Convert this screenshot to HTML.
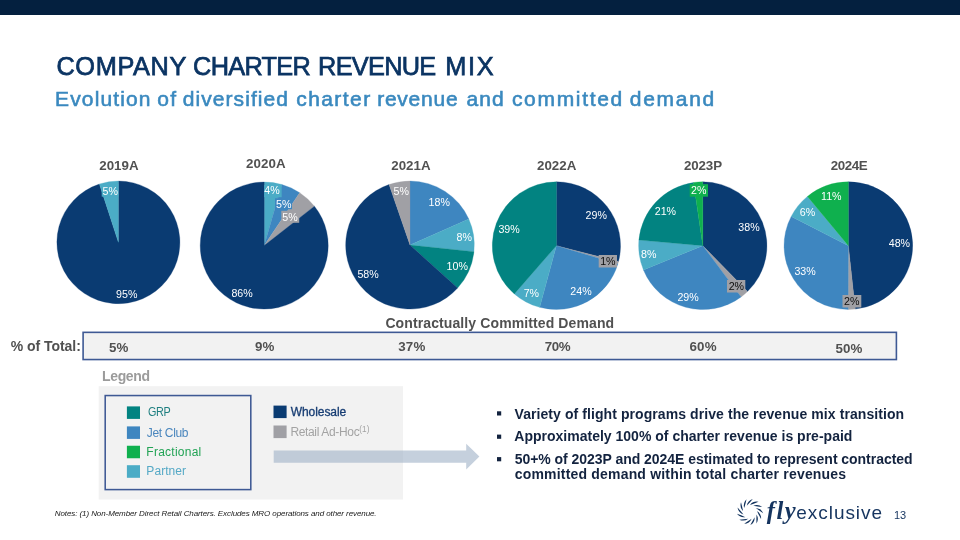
<!DOCTYPE html>
<html lang="en"><head><meta charset="utf-8"><title>Company Charter Revenue Mix</title>
<style>
html,body{margin:0;padding:0;background:#fff;}
body{width:960px;height:540px;position:relative;overflow:hidden;font-family:"Liberation Sans",sans-serif;}
.t{position:absolute;white-space:nowrap;line-height:1;}
svg text{font-family:"Liberation Sans",sans-serif;font-size:10.67px;text-anchor:middle;}
.bar{position:absolute;left:0;top:0;width:960px;height:14px;background:#04203f;border-bottom:1px solid rgba(4,32,63,0.4);}
</style></head><body>
<div class="bar"></div>

<svg width="960" height="540" viewBox="0 0 960 540" style="position:absolute;left:0;top:0">
<rect x="98.7" y="386.2" width="304.3" height="113.3" fill="#f2f2f2"/>
<rect x="83.1" y="332.35" width="813.3" height="27.2" fill="#f2f2f2" stroke="#3e5994" stroke-width="1.6"/>
<rect x="105.2" y="395.55" width="145.6" height="94.05" fill="none" stroke="#3e5994" stroke-width="1.55"/>
<rect x="126.9" y="406.4" width="13.1" height="12.5" fill="#028381"/>
<rect x="126.9" y="426.4" width="13.1" height="12.5" fill="#3e86c0"/>
<rect x="126.9" y="445.75" width="13.1" height="12.5" fill="#0fb04e"/>
<rect x="126.9" y="465.2" width="13.1" height="12.6" fill="#4bacc6"/>
<rect x="273.5" y="405.6" width="13.1" height="12.5" fill="#0a3b72"/>
<rect x="273.5" y="425.5" width="13.1" height="12.6" fill="#a0a0a5"/>
<rect x="497" y="411.3" width="4.2" height="4.2" fill="#13233f"/>
<rect x="497" y="434.6" width="4.2" height="4.2" fill="#13233f"/>
<rect x="497" y="457.1" width="4.2" height="4.2" fill="#13233f"/>
<path d="M118.40,242.35 L118.40,181.05 A61.50,61.30 0 1 1 99.40,184.05 Z" fill="#0a3b72" stroke="#0a3b72" stroke-width="0.3"/>
<path d="M118.40,242.35 L99.40,184.05 A61.50,61.30 0 0 1 118.40,181.05 Z" fill="#4bacc6" stroke="#4bacc6" stroke-width="0.3"/>
<path d="M264.20,245.55 L264.20,182.05 A64.00,63.50 0 0 1 281.84,184.51 Z" fill="#4bacc6" stroke="#4bacc6" stroke-width="0.3"/>
<path d="M264.20,245.55 L281.84,184.51 A64.00,63.50 0 0 1 299.71,192.72 Z" fill="#3e86c0" stroke="#3e86c0" stroke-width="0.3"/>
<path d="M264.20,245.55 L299.71,192.72 A64.00,63.50 0 0 1 314.43,206.19 Z" fill="#a0a0a5" stroke="#a0a0a5" stroke-width="0.3"/>
<path d="M264.20,245.55 L314.43,206.19 A64.00,63.50 0 1 1 264.20,182.05 Z" fill="#0a3b72" stroke="#0a3b72" stroke-width="0.3"/>
<path d="M410.00,245.05 L410.00,181.05 A64.30,64.00 0 0 1 468.79,219.12 Z" fill="#3e86c0" stroke="#3e86c0" stroke-width="0.3"/>
<path d="M410.00,245.05 L468.79,219.12 A64.30,64.00 0 0 1 473.95,251.74 Z" fill="#4bacc6" stroke="#4bacc6" stroke-width="0.3"/>
<path d="M410.00,245.05 L473.95,251.74 A64.30,64.00 0 0 1 457.63,288.04 Z" fill="#028381" stroke="#028381" stroke-width="0.3"/>
<path d="M410.00,245.05 L457.63,288.04 A64.30,64.00 0 1 1 389.07,184.54 Z" fill="#0a3b72" stroke="#0a3b72" stroke-width="0.3"/>
<path d="M410.00,245.05 L389.07,184.54 A64.30,64.00 0 0 1 410.00,181.05 Z" fill="#a0a0a5" stroke="#a0a0a5" stroke-width="0.3"/>
<path d="M556.40,245.70 L556.40,181.85 A64.10,63.85 0 0 1 618.49,261.58 Z" fill="#0a3b72" stroke="#0a3b72" stroke-width="0.3"/>
<path d="M556.40,245.70 L618.49,261.58 A64.10,63.85 0 0 1 617.83,263.94 Z" fill="#a0a0a5" stroke="#a0a0a5" stroke-width="0.3"/>
<path d="M556.40,245.70 L617.83,263.94 A64.10,63.85 0 0 1 539.70,307.35 Z" fill="#3e86c0" stroke="#3e86c0" stroke-width="0.3"/>
<path d="M556.40,245.70 L539.70,307.35 A64.10,63.85 0 0 1 514.35,293.89 Z" fill="#4bacc6" stroke="#4bacc6" stroke-width="0.3"/>
<path d="M556.40,245.70 L514.35,293.89 A64.10,63.85 0 0 1 556.40,181.85 Z" fill="#028381" stroke="#028381" stroke-width="0.3"/>
<path d="M702.80,245.70 L702.80,181.85 A64.15,63.85 0 0 1 747.52,291.47 Z" fill="#0a3b72" stroke="#0a3b72" stroke-width="0.3"/>
<path d="M702.80,245.70 L747.52,291.47 A64.15,63.85 0 0 1 741.14,296.89 Z" fill="#a0a0a5" stroke="#a0a0a5" stroke-width="0.3"/>
<path d="M702.80,245.70 L741.14,296.89 A64.15,63.85 0 0 1 643.45,269.93 Z" fill="#3e86c0" stroke="#3e86c0" stroke-width="0.3"/>
<path d="M702.80,245.70 L643.45,269.93 A64.15,63.85 0 0 1 638.90,240.02 Z" fill="#4bacc6" stroke="#4bacc6" stroke-width="0.3"/>
<path d="M702.80,245.70 L638.90,240.02 A64.15,63.85 0 0 1 693.54,182.52 Z" fill="#028381" stroke="#028381" stroke-width="0.3"/>
<path d="M702.80,245.70 L693.54,182.52 A64.15,63.85 0 0 1 702.80,181.85 Z" fill="#0fb04e" stroke="#0fb04e" stroke-width="0.3"/>
<path d="M848.35,245.65 L848.35,181.85 A64.30,63.80 0 0 1 855.29,309.08 Z" fill="#0a3b72" stroke="#0a3b72" stroke-width="0.3"/>
<path d="M848.35,245.65 L855.29,309.08 A64.30,63.80 0 0 1 848.13,309.45 Z" fill="#a0a0a5" stroke="#a0a0a5" stroke-width="0.3"/>
<path d="M848.35,245.65 L848.13,309.45 A64.30,63.80 0 0 1 791.21,216.39 Z" fill="#3e86c0" stroke="#3e86c0" stroke-width="0.3"/>
<path d="M848.35,245.65 L791.21,216.39 A64.30,63.80 0 0 1 807.45,196.42 Z" fill="#4bacc6" stroke="#4bacc6" stroke-width="0.3"/>
<path d="M848.35,245.65 L807.45,196.42 A64.30,63.80 0 0 1 848.35,181.85 Z" fill="#0fb04e" stroke="#0fb04e" stroke-width="0.3"/>
<rect x="101.7" y="184" width="16.6" height="12.7" fill="#4bacc6"/>
<rect x="264.2" y="185" width="17.5" height="12.2" fill="#4bacc6"/>
<rect x="275" y="198.3" width="17.0" height="10.9" fill="#3e86c0"/>
<rect x="281.3" y="210.8" width="17.9" height="12.0" fill="#a0a0a5"/>
<rect x="598.7" y="255" width="18.3" height="12.5" fill="#a0a0a5"/>
<rect x="689.7" y="184.2" width="18.3" height="12.5" fill="#0fb04e"/>
<rect x="727" y="280" width="18.3" height="12.5" fill="#a0a0a5"/>
<rect x="842.5" y="295" width="18.8" height="12.5" fill="#a0a0a5"/>
<text x="110.3" y="194.5" fill="#ffffff">5%</text>
<text x="126.7" y="298" fill="#ffffff">95%</text>
<text x="272" y="194.3" fill="#ffffff">4%</text>
<text x="283.7" y="207.5" fill="#ffffff">5%</text>
<text x="290" y="220.8" fill="#ffffff">5%</text>
<text x="242.1" y="297" fill="#ffffff">86%</text>
<text x="401.2" y="194.7" fill="#ffffff">5%</text>
<text x="439.2" y="205.8" fill="#ffffff">18%</text>
<text x="464.3" y="240.8" fill="#ffffff">8%</text>
<text x="457.2" y="270" fill="#ffffff">10%</text>
<text x="368.1" y="277.5" fill="#ffffff">58%</text>
<text x="596.2" y="218.8" fill="#ffffff">29%</text>
<text x="509.1" y="232.5" fill="#ffffff">39%</text>
<text x="607.9" y="265" fill="#0d0d0d">1%</text>
<text x="581" y="295" fill="#ffffff">24%</text>
<text x="531.4" y="296.7" fill="#ffffff">7%</text>
<text x="698.8" y="194.2" fill="#ffffff">2%</text>
<text x="665.4" y="214.7" fill="#ffffff">21%</text>
<text x="749" y="231.3" fill="#ffffff">38%</text>
<text x="736.4" y="290" fill="#0d0d0d">2%</text>
<text x="688.1" y="300.8" fill="#ffffff">29%</text>
<text x="648.8" y="257.5" fill="#ffffff">8%</text>
<text x="831.3" y="199.7" fill="#ffffff">11%</text>
<text x="807.5" y="215.8" fill="#ffffff">6%</text>
<text x="851.7" y="305.0" fill="#0d0d0d">2%</text>
<text x="899.4" y="247" fill="#ffffff">48%</text>
<text x="805.1" y="275.3" fill="#ffffff">33%</text>

<path d="M273.7,450.5 H466.2 V443.7 L479.4,456.6 L466.2,469.4 V462.8 H273.7 Z" fill="#9eb0c7" fill-opacity="0.6"/>
<path d="M750.00,504.90 Q753.31,500.81 758.48,501.79 Q754.31,503.53 750.00,504.90 Z" fill="#10315c"/>
<path d="M753.25,505.70 Q758.09,503.62 762.21,506.89 Q757.71,506.49 753.25,505.70 Z" fill="#10315c"/>
<path d="M755.76,507.92 Q761.01,508.33 763.14,513.14 Q759.34,510.69 755.76,507.92 Z" fill="#10315c"/>
<path d="M756.95,511.06 Q761.41,513.85 761.06,519.10 Q758.83,515.17 756.95,511.06 Z" fill="#10315c"/>
<path d="M756.55,514.38 Q759.20,518.93 756.45,523.42 Q756.30,518.90 756.55,514.38 Z" fill="#10315c"/>
<path d="M754.64,517.14 Q754.87,522.40 750.35,525.10 Q752.32,521.02 754.64,517.14 Z" fill="#10315c"/>
<path d="M751.68,518.70 Q749.44,523.46 744.18,523.75 Q747.82,521.06 751.68,518.70 Z" fill="#10315c"/>
<path d="M748.32,518.70 Q744.13,521.88 739.34,519.69 Q743.81,518.99 748.32,518.70 Z" fill="#10315c"/>
<path d="M745.36,517.14 Q740.17,518.00 736.94,513.84 Q741.22,515.30 745.36,517.14 Z" fill="#10315c"/>
<path d="M743.45,514.38 Q738.46,512.74 737.54,507.55 Q740.65,510.84 743.45,514.38 Z" fill="#10315c"/>
<path d="M743.05,511.06 Q739.39,507.27 740.98,502.26 Q742.21,506.61 743.05,511.06 Z" fill="#10315c"/>
<path d="M744.24,507.92 Q742.75,502.87 746.50,499.17 Q745.56,503.60 744.24,507.92 Z" fill="#10315c"/>
<path d="M746.75,505.70 Q747.78,500.54 752.81,499.00 Q749.93,502.49 746.75,505.70 Z" fill="#10315c"/>
</svg>
<div id="title">
<span class="t" id="title_0" style="left:53.07px;top:52.92px;font-size:26.67px;font-weight:400;color:#0b3463;letter-spacing:0.675px;-webkit-text-stroke:0.75px #0b3463;transform:scaleX(0.95);">COMPANY</span>
<span class="t" id="title_1" style="left:190.35px;top:52.92px;font-size:26.67px;font-weight:400;color:#0b3463;letter-spacing:-0.750px;-webkit-text-stroke:0.75px #0b3463;transform:scaleX(0.95);">CHARTER</span>
<span class="t" id="title_2" style="left:315.35px;top:52.92px;font-size:26.67px;font-weight:400;color:#0b3463;letter-spacing:-0.750px;-webkit-text-stroke:0.75px #0b3463;transform:scaleX(0.95);">REVENUE</span>
<span class="t" id="title_3" style="left:443.75px;top:52.92px;font-size:26.67px;font-weight:400;color:#0b3463;letter-spacing:1.800px;-webkit-text-stroke:0.75px #0b3463;transform:scaleX(0.95);">MIX</span>
</div>
<div id="sub">
<span class="t" id="sub_0" style="left:55.10px;top:87.82px;font-size:21px;font-weight:400;color:#3a89bf;letter-spacing:1.125px;-webkit-text-stroke:0.6px #3a89bf;">Evolution</span>
<span class="t" id="sub_1" style="left:157.20px;top:87.82px;font-size:21px;font-weight:400;color:#3a89bf;letter-spacing:1.500px;-webkit-text-stroke:0.6px #3a89bf;">of</span>
<span class="t" id="sub_2" style="left:182.65px;top:87.82px;font-size:21px;font-weight:400;color:#3a89bf;letter-spacing:1.080px;-webkit-text-stroke:0.6px #3a89bf;">diversified</span>
<span class="t" id="sub_3" style="left:296.22px;top:87.82px;font-size:21px;font-weight:400;color:#3a89bf;letter-spacing:1.425px;-webkit-text-stroke:0.6px #3a89bf;">charter</span>
<span class="t" id="sub_4" style="left:377.20px;top:87.82px;font-size:21px;font-weight:400;color:#3a89bf;letter-spacing:0.750px;-webkit-text-stroke:0.6px #3a89bf;">revenue</span>
<span class="t" id="sub_5" style="left:466.53px;top:87.82px;font-size:21px;font-weight:400;color:#3a89bf;letter-spacing:1.125px;-webkit-text-stroke:0.6px #3a89bf;">and</span>
<span class="t" id="sub_6" style="left:511.90px;top:87.82px;font-size:21px;font-weight:400;color:#3a89bf;letter-spacing:1.688px;-webkit-text-stroke:0.6px #3a89bf;">committed</span>
<span class="t" id="sub_7" style="left:629.78px;top:87.82px;font-size:21px;font-weight:400;color:#3a89bf;letter-spacing:1.710px;-webkit-text-stroke:0.6px #3a89bf;">demand</span>
</div>
<div class="t" id="y0" style="left:99.25px;top:158.72px;font-size:13.33px;font-weight:700;color:#515151;letter-spacing:-0.000px;">2019A</div>
<div class="t" id="y1" style="left:246.03px;top:157.02px;font-size:13.33px;font-weight:700;color:#515151;letter-spacing:0.112px;">2020A</div>
<div class="t" id="y2" style="left:391.25px;top:159.02px;font-size:13.33px;font-weight:700;color:#515151;letter-spacing:0.000px;">2021A</div>
<div class="t" id="y3" style="left:537.05px;top:159.02px;font-size:13.33px;font-weight:700;color:#515151;letter-spacing:-0.000px;">2022A</div>
<div class="t" id="y4" style="left:683.98px;top:158.72px;font-size:13.33px;font-weight:700;color:#515151;letter-spacing:-0.113px;">2023P</div>
<div class="t" id="y5" style="left:830.80px;top:159.22px;font-size:13.33px;font-weight:700;color:#515151;letter-spacing:-0.450px;">2024E</div>
<div class="t" id="ccd" style="left:385.38px;top:315.95px;font-size:14px;font-weight:700;color:#515151;letter-spacing:0.109px;">Contractually Committed Demand</div>
<div class="t" id="pot" style="left:10.78px;top:339.35px;font-size:14px;font-weight:700;color:#515151;letter-spacing:-0.045px;">% of Total:</div>
<div class="t" id="p0" style="left:109.05px;top:340.72px;font-size:13.33px;font-weight:700;color:#515151;letter-spacing:0.040px;">5%</div>
<div class="t" id="p1" style="left:255.00px;top:339.92px;font-size:13.33px;font-weight:700;color:#515151;letter-spacing:0.000px;">9%</div>
<div class="t" id="p2" style="left:398.23px;top:339.92px;font-size:13.33px;font-weight:700;color:#515151;letter-spacing:0.225px;">37%</div>
<div class="t" id="p3" style="left:544.85px;top:339.92px;font-size:13.33px;font-weight:700;color:#515151;letter-spacing:-0.450px;">70%</div>
<div class="t" id="p4" style="left:689.48px;top:339.92px;font-size:13.33px;font-weight:700;color:#515151;letter-spacing:0.225px;">60%</div>
<div class="t" id="p5" style="left:835.60px;top:341.62px;font-size:13.33px;font-weight:700;color:#515151;letter-spacing:0.000px;">50%</div>
<div class="t" id="leg" style="left:102.05px;top:369.35px;font-size:14px;font-weight:700;color:#9b9b9b;letter-spacing:-0.360px;">Legend</div>
<div class="t" id="l0" style="left:147.65px;top:406.44px;font-size:12px;font-weight:400;color:#1f7f80;letter-spacing:-0.450px;transform:scaleX(0.9);transform-origin:0 0;">GRP</div>
<div class="t" id="l1" style="left:146.77px;top:426.84px;font-size:12px;font-weight:400;color:#4a86bd;letter-spacing:-0.321px;">Jet Club</div>
<div class="t" id="l2" style="left:146.32px;top:446.04px;font-size:12px;font-weight:400;color:#22a355;letter-spacing:0.250px;">Fractional</div>
<div class="t" id="l3" style="left:146.32px;top:465.34px;font-size:12px;font-weight:400;color:#55a9c6;letter-spacing:0.075px;">Partner</div>
<div class="t" id="l4" style="left:290.68px;top:405.64px;font-size:12px;font-weight:400;color:#173d73;letter-spacing:-0.056px;-webkit-text-stroke:0.3px #173d73;">Wholesale</div>
<div class="t" id="l5" style="left:290.38px;top:425.64px;font-size:12px;font-weight:400;color:#a3a3a3;letter-spacing:-0.338px;">Retail Ad-Hoc<span style="font-size:8.2px;position:relative;top:-3.6px;letter-spacing:0">(1)</span></div>
<div class="t" id="b0" style="left:514.50px;top:406.55px;font-size:14px;font-weight:700;color:#13233f;letter-spacing:0.078px;">Variety of flight programs drive the revenue mix transition</div>
<div class="t" id="b1" style="left:514.27px;top:429.35px;font-size:14px;font-weight:700;color:#13233f;letter-spacing:0.009px;">Approximately 100% of charter revenue is pre-paid</div>
<div class="t" id="b2" style="left:514.72px;top:451.85px;font-size:14px;font-weight:700;color:#13233f;letter-spacing:-0.040px;">50+% of 2023P and 2024E estimated to represent contracted</div>
<div class="t" id="b3" style="left:514.73px;top:467.15px;font-size:14px;font-weight:700;color:#13233f;letter-spacing:0.190px;">committed demand within total charter revenues</div>
<div class="t" id="notes" style="left:54.78px;top:509.63px;font-size:8px;font-weight:400;color:#1a1a1a;letter-spacing:-0.088px;font-style:italic;">Notes: (1) Non-Member Direct Retail Charters. Excludes MRO operations and other revenue.</div>
<div class="t" id="fly" style="left:766.68px;top:498.98px;font-size:24.5px;font-weight:700;color:#15345f;letter-spacing:1.575px;font-family:'Liberation Serif',serif;font-style:italic;">fly</div>
<div class="t" id="excl" style="left:796.28px;top:503.42px;font-size:19px;font-weight:400;color:#15345f;letter-spacing:0.956px;">exclusive</div>
<div class="t" id="pg" style="left:894.00px;top:510.19px;font-size:11px;font-weight:400;color:#15345f;letter-spacing:0.000px;">13</div>
</body></html>
